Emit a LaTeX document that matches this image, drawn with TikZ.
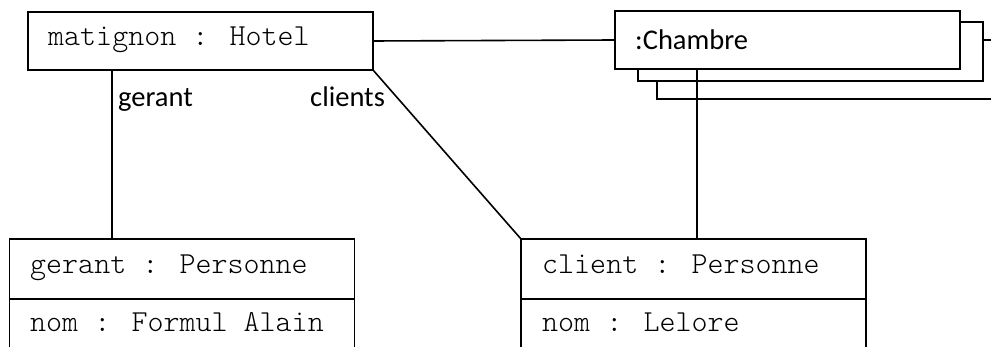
\documentclass[tikz,border=0pt]{standalone}
\usepackage{fontspec}
\setmainfont{Carlito}
\newfontfamily\monolt{Latin Modern Mono Light}
\begin{document}
\begin{tikzpicture}[x=1pt,y=-1pt,
 box/.style={draw, line width=1.6pt, fill=white, inner sep=0pt, outer sep=0pt, minimum width=345pt},
 mono/.style={font=\monolt\fontsize{30.5}{34}\selectfont, anchor=base west, inner sep=0pt},
 lbl/.style={font=\fontsize{28.5}{33}\selectfont, anchor=base west, inner sep=0pt},
 conn/.style={line width=1.6pt}]
\useasboundingbox (0,0) rectangle (991,347);
\clip (0,0) rectangle (991,347);
% boxes
\node[box, minimum height=58pt] (hotel) at (200.5,41) {};
\node[box, minimum height=59pt] (ch3) at (829.5,69.5) {};
\node[box, minimum height=59pt] (ch2) at (810.5,51.5) {};
\node[box, minimum height=58pt] (chambre) at (787.5,40) {};
\node[box, minimum height=60pt] (gerantH) at (182,269) {};
\node[box, minimum height=70pt] (gerantA) at (182,334) {};
\node[box, minimum height=60pt] (clientH) at (693.5,269) {};
\node[box, minimum height=70pt] (clientA) at (693.5,334) {};
% texts
\node[mono] (tHotel) at (48,46) {matignon : Hotel};
\node[lbl] (tCh) at (635,50) {:Chambre};
\node[mono] (tG) at (30,274) {gerant : Personne};
\node[mono] (tGn) at (30,332) {nom : Formul Alain};
\node[mono] (tC) at (542,274) {client : Personne};
\node[mono] (tCn) at (542,332) {nom : Lelore};
\node[lbl] (lg) at (118,107) {gerant};
\node[lbl] (lc) at (310,107) {clients};
% connectors
\draw[conn] (hotel.east) -- (chambre.west);
\draw[conn] ([xshift=84pt]hotel.south west) -- ([xshift=102.5pt]gerantH.north west);
\draw[conn] ([xshift=82pt]chambre.south west) -- ([xshift=176pt]clientH.north west);
\draw[conn] (hotel.south east) -- (clientH.north west);
\end{tikzpicture}
\end{document}
